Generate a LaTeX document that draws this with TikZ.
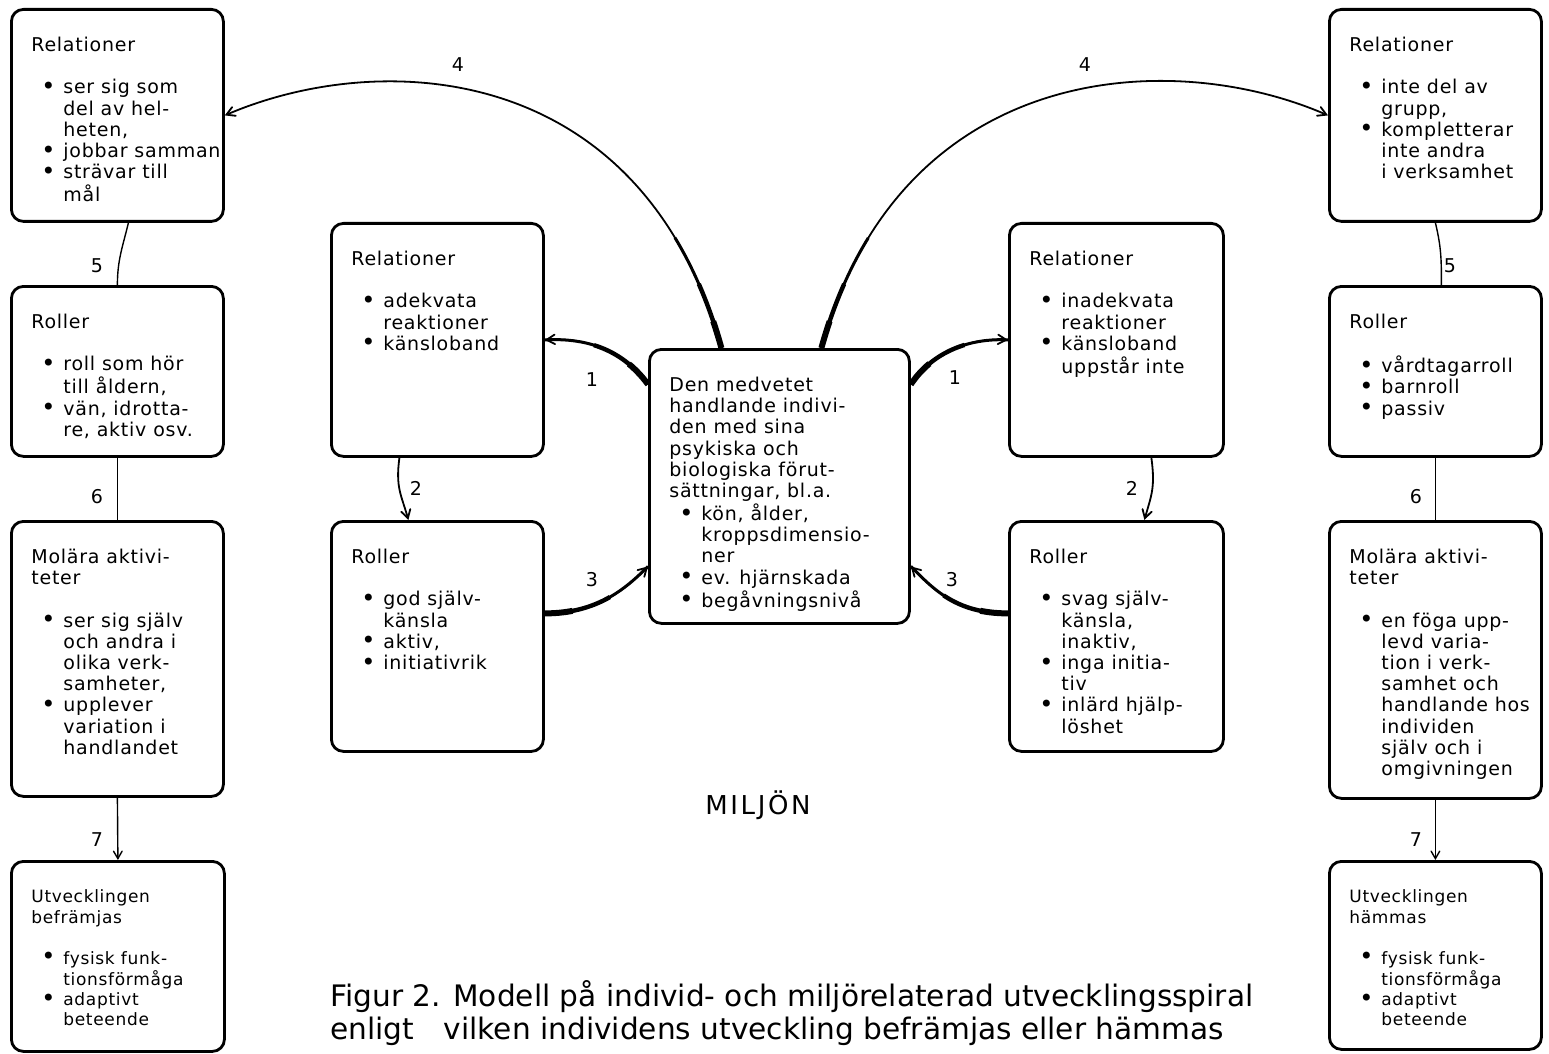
\documentclass[tikz,border=0pt]{standalone}
\usepackage{fontspec}
\setmainfont{DejaVu Sans}[LetterSpace=4.0]
\newfontfamily\capfont{DejaVu Sans}
\usetikzlibrary{arrows}

\newlength{\px}
\setlength{\px}{0.5pt}
% box body: width, height (px), rows
\newcommand{\boxbody}[3]{%
  \begin{minipage}[t][#2\px][t]{#1\px}%
    \vspace*{13.6pt}%
    \begin{tabular}[t]{@{\hspace{10pt}}l@{}l@{}}#3\end{tabular}%
  \end{minipage}}
\newcommand{\hd}[1]{\multicolumn{2}{@{\hspace{10pt}}l@{}}{#1}\\}
\newcommand{\bu}{\makebox[16pt][l]{\hspace*{5pt}\raisebox{-0.3pt}{\fontsize{12}{10}\selectfont\textbullet}}}

\tikzset{
  box/.style={draw, line width=1.4pt, rounded corners=6pt, inner sep=0pt, anchor=north west},
  link/.style={line width=0.9pt},
  slim/.style={line width=0.7pt},
  taper/.style={postaction={draw,-,line width=1.5pt,dash pattern=on 60pt off 4000pt},
                postaction={draw,-,line width=2.2pt,dash pattern=on 34pt off 4000pt},
                postaction={draw,-,line width=3pt,dash pattern=on 14pt off 4000pt}},
  lbl/.style={inner sep=0pt},
}

\begin{document}
\begin{tikzpicture}[x=0.5pt,y=-0.5pt,>=angle 60,font=\fontsize{9.5}{10.6}\selectfont]
  \useasboundingbox (0,0) rectangle (1549,1054);

  % left column
  \node[box] (lr) at (10,8) {\boxbody{212}{212}{%
    \hd{Relationer}\hd{}
    \bu & ser sig som\\ & del av hel-\\ & heten,\\
    \bu & jobbar samman\\
    \bu & strävar till\\ & mål\\}};
  \node[box] (lro) at (10,285) {\boxbody{212}{170}{%
    \hd{Roller}\hd{}
    \bu & roll som hör\\ & till åldern,\\
    \bu & vän, idrotta-\\ & re, aktiv osv.\\}};
  \node[box] (lm) at (10,520) {\boxbody{212}{275}{%
    \hd{Molära aktivi-}\hd{teter}\hd{}
    \bu & ser sig själv\\ & och andra i\\ & olika verk-\\ & samheter,\\
    \bu & upplever\\ & variation i\\ & handlandet\\}};
  \node[box,font=\fontsize{8.5}{10.2}\selectfont] (lu) at (10,860) {\boxbody{213}{190}{%
    \hd{Utvecklingen}\hd{befrämjas}\hd{}
    \bu & fysisk funk-\\ & tionsförmåga\\
    \bu & adaptivt\\ & beteende\\}};

  % inner left
  \node[box] (clr) at (330,222) {\boxbody{212}{233}{%
    \hd{Relationer}\hd{}
    \bu & adekvata\\ & reaktioner\\
    \bu & känsloband\\}};
  \node[box] (clro) at (330,520) {\boxbody{212}{230}{%
    \hd{Roller}\hd{}
    \bu & god själv-\\ & känsla\\
    \bu & aktiv,\\
    \bu & initiativrik\\}};

  % centre
  \node[box] (ctr) at (648,348) {\boxbody{260}{274}{%
    \hd{Den medvetet}\hd{handlande indivi-}\hd{den med sina}
    \hd{psykiska och}\hd{biologiska förut-}\hd{sättningar, bl.a.}
    \bu & kön, ålder,\\ & kroppsdimensio-\\ & ner\\
    \bu & ev. hjärnskada\\
    \bu & begåvningsnivå\\}};

  % inner right
  \node[box] (crr) at (1008,222) {\boxbody{214}{233}{%
    \hd{Relationer}\hd{}
    \bu & inadekvata\\ & reaktioner\\
    \bu & känsloband\\ & uppstår inte\\}};
  \node[box] (crro) at (1008,520) {\boxbody{214}{230}{%
    \hd{Roller}\hd{}
    \bu & svag själv-\\ & känsla,\\ & inaktiv,\\
    \bu & inga initia-\\ & tiv\\
    \bu & inlärd hjälp-\\ & löshet\\}};

  % right column
  \node[box] (rr) at (1328,8) {\boxbody{212}{212}{%
    \hd{Relationer}\hd{}
    \bu & inte del av\\ & grupp,\\
    \bu & kompletterar\\ & inte andra\\ & i verksamhet\\}};
  \node[box] (rro) at (1328,285) {\boxbody{212}{170}{%
    \hd{Roller}\hd{}
    \bu & vårdtagarroll\\
    \bu & barnroll\\
    \bu & passiv\\}};
  \node[box] (rm) at (1328,520) {\boxbody{212}{277}{%
    \hd{Molära aktivi-}\hd{teter}\hd{}
    \bu & en föga upp-\\ & levd varia-\\ & tion i verk-\\ & samhet och\\
        & handlande hos\\ & individen\\ & själv och i\\ & omgivningen\\}};
  \node[box,font=\fontsize{8.5}{10.2}\selectfont] (ru) at (1328,860) {\boxbody{212}{188}{%
    \hd{Utvecklingen}\hd{hämmas}\hd{}
    \bu & fysisk funk-\\ & tionsförmåga\\
    \bu & adaptivt\\ & beteende\\}};

  % connectors
  \draw[link,->,taper] ([xshift=-29pt]ctr.north) .. controls +(-80,-288) and +(156,-67) .. (lr.east);
  \draw[link,->,taper] ([xshift=21pt]ctr.north) .. controls +(80,-288) and +(-156,-68) .. (rr.west);
  \draw[link,->,taper] ([yshift=51pt]ctr.west) .. controls +(-28,-38) and +(37,-2) .. (clr.east);
  \draw[link,->,taper] ([yshift=51pt]ctr.east) .. controls +(22,-33) and +(-38,-2) .. (crr.west);
  \draw[link,->] ([xshift=-19pt]clr.south) .. controls +(-4,30) and +(-7,-25) .. ([xshift=-14.5pt]clro.north);
  \draw[link,->] ([xshift=17.5pt]crr.south) .. controls +(4,30) and +(7,-25) .. ([xshift=14pt]crro.north);
  \draw[link,->,taper] ([yshift=11.5pt]clro.east) .. controls +(52,0) and +(-23,23) .. ([yshift=-40pt]ctr.west);
  \draw[link,->,taper] ([yshift=11.5pt]crro.west) .. controls +(-52,0) and +(23,23) .. ([yshift=-40pt]ctr.east);
  \draw[slim] ([xshift=5.5pt]lr.south) .. controls +(-6,25) and +(0,-25) .. (lro.north);
  \draw[slim] (rr.south) .. controls +(6,25) and +(0,-25) .. ([xshift=3pt]rro.north);
  \draw[slim] (lro.south) -- (lm.north);
  \draw[slim] (rro.south) -- (rm.north);
  \draw[slim,->] (lm.south) -- (lu.north);
  \draw[slim,->] (rm.south) -- (ru.north);

  % numbers
  \node[lbl] (n4l) at (458,65) {4};
  \node[lbl] (n4r) at (1085,65) {4};
  \node[lbl] (n1l) at (592,380) {1};
  \node[lbl] (n1r) at (955,378) {1};
  \node[lbl] (n2l) at (416,488) {2};
  \node[lbl] (n2r) at (1132,488) {2};
  \node[lbl] (n3l) at (592,580) {3};
  \node[lbl] (n3r) at (952,580) {3};
  \node[lbl] (n5l) at (97,266) {5};
  \node[lbl] (n5r) at (1450,266) {5};
  \node[lbl] (n6l) at (97,497) {6};
  \node[lbl] (n6r) at (1416,497) {6};
  \node[lbl] (n7l) at (97,840) {7};
  \node[lbl] (n7r) at (1416,840) {7};

  \node (milj) at (758,805) {\fontsize{13}{15}\selectfont\addfontfeature{LetterSpace=10}MILJÖN};
  \node[anchor=north west, align=left, inner sep=0pt, font=\capfont\fontsize{14.8}{16.5}\selectfont] (cap) at (330,980)
    {Figur 2. Modell på individ- och miljörelaterad utvecklingsspiral\\enligt\quad vilken individens utveckling befrämjas eller hämmas};
\end{tikzpicture}
\end{document}
